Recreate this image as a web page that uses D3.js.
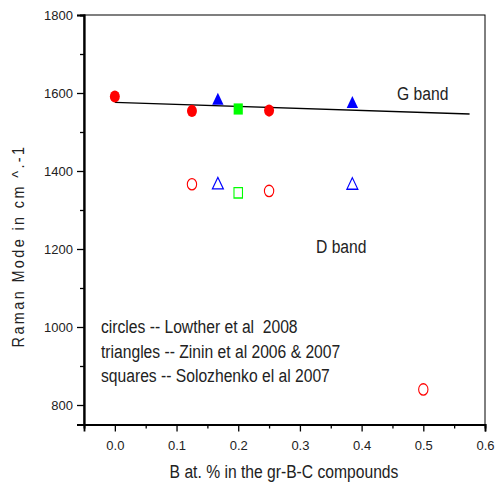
<!DOCTYPE html>
<html>
<head>
<meta charset="utf-8">
<style>
  body { margin: 0; background: #fff; }
  text { font-family: "Liberation Sans", Arial, sans-serif; fill: #222; white-space: pre; }
</style>
</head>
<body>
<div class="start"></div>
<script src="https://cdn.jsdelivr.net/npm/d3@7/dist/d3.min.js"></script>
<script>
// values
var circlesX = [0, 0.125, 0.25];
var circlesG = [1591, 1554, 1555];
var circlesDX = [0.125, 0.25, 0.5];
var circlesD = [1366, 1349, 840];
var trianglesX = [0.167, 0.385];
var trianglesG = [1580, 1572];
var trianglesD = [1364, 1363];
var squaresX = [0.2];
var squaresG = [1559];
var squaresD = [1344];
var fitX = [0, 0.575];
var fitY = [1576, 1546];
var xTicks = [0, 0.1, 0.2, 0.3, 0.4, 0.5, 0.6];
var yTicks = [800, 1000, 1200, 1400, 1600, 1800];
var legendLines = ["circles -- Lowther et al  2008", "triangles -- Zinin et al 2006 & 2007", "squares -- Solozhenko el al 2007"];

var W = 499, H = 487;
var pLeft = 84, pRight = 485, pTop = 15, pBottom = 424.5;

var svg = d3.select('.start').append('svg')
  .attr('width', W).attr('height', H);

var x = d3.scaleLinear().domain([-0.05, 0.6]).range([pLeft, pRight]);
var y = d3.scaleLinear().domain([750, 1800]).range([pBottom, pTop]);

// frame
svg.append('rect').attr('x', pLeft).attr('y', pTop)
  .attr('width', pRight - pLeft).attr('height', pBottom - pTop)
  .attr('fill', 'none').attr('stroke', '#000').attr('stroke-width', 1);

// axes
var xAxis = svg.append('g').attr('transform', 'translate(0,' + pBottom + ')')
  .call(d3.axisBottom(x).tickValues(xTicks).tickFormat(d3.format('.1f')).tickSize(7).tickPadding(9));
var xMinor = svg.append('g').attr('transform', 'translate(0,' + pBottom + ')')
  .call(d3.axisBottom(x).tickValues([-0.05, 0.05, 0.15, 0.25, 0.35, 0.45, 0.55]).tickFormat('').tickSize(4));
var yAxis = svg.append('g').attr('transform', 'translate(' + pLeft + ',0)')
  .call(d3.axisLeft(y).tickValues(yTicks).tickFormat(d3.format('d')).tickSize(7).tickPadding(4));
var yMinor = svg.append('g').attr('transform', 'translate(' + pLeft + ',0)')
  .call(d3.axisLeft(y).tickValues([900, 1100, 1300, 1500, 1700]).tickFormat('').tickSize(4));

[xAxis, xMinor, yAxis, yMinor].forEach(function(g) {
  g.select('.domain').attr('stroke-width', 1.8);
  g.selectAll('.tick line').attr('stroke-width', 1.3);
  g.selectAll('text').style('font-size', '13px').attr('fill', '#222');
});

// fit line
var pts = fitX.map(function(d, i) { return [x(d), y(fitY[i])]; });
svg.append('path').attr('d', d3.line()(pts))
  .attr('stroke', '#000').attr('stroke-width', 1.4).attr('fill', 'none');

// markers come out a bit taller than wide in the original
function markers(xs, ys, type, size, color, filled) {
  svg.append('g').selectAll('path')
    .data(xs).enter().append('path')
    .attr('transform', function(d, i) { return 'translate(' + x(d) + ',' + y(ys[i]) + ') scale(1,1.22)'; })
    .attr('d', d3.symbol().type(type).size(size))
    .attr('fill', filled ? color : 'none')
    .attr('stroke', color)
    .attr('stroke-width', filled ? 0 : 1.1);
}

markers(circlesX, circlesG, d3.symbolCircle, 78, '#ff0000', true);
markers(circlesDX, circlesD, d3.symbolCircle, 68, '#ff0000', false);
markers(trianglesX, trianglesG, d3.symbolTriangle, 56, '#0000ff', true);
markers(trianglesX, trianglesD, d3.symbolTriangle, 52, '#0000ff', false);
markers(squaresX, squaresG, d3.symbolSquare, 84, '#00ff00', true);
markers(squaresX, squaresD, d3.symbolSquare, 72, '#00ff00', false);

// narrow looking text: squeeze horizontally
function label(px, py, str, anchor) {
  svg.append('text')
    .attr('transform', 'translate(' + px + ',' + py + ') scale(0.87,1)')
    .attr('text-anchor', anchor || 'start')
    .style('font-size', '18px')
    .text(str);
}

label(397, 100, 'G band');
label(316, 253, 'D band');
legendLines.forEach(function(d, i) { label(101, 333 + i * 24.5, d); });
label(284, 478, 'B at. % in the gr-B-C compounds', 'middle');

svg.append('text').attr('transform', 'translate(24,246) rotate(-90) scale(0.85,1)')
  .attr('text-anchor', 'middle').style('font-size', '17px').style('letter-spacing', '2.8px')
  .text('Raman Mode in cm ^.-1');
</script>
</body>
</html>
